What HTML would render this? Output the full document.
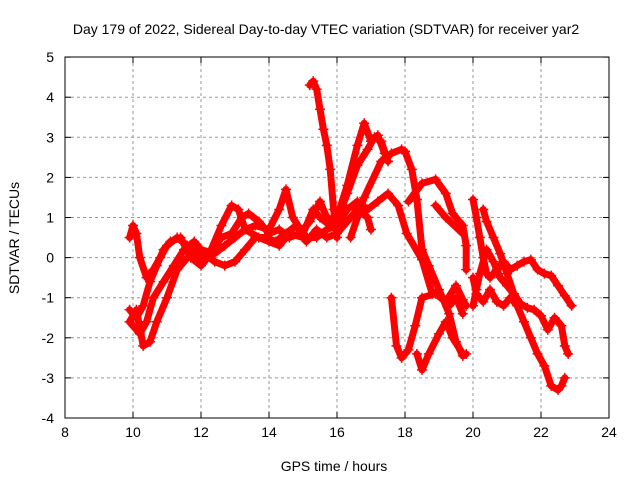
<!DOCTYPE html>
<html><head><meta charset="utf-8"><style>
body{margin:0;background:#fff;}
svg{display:block;font-family:"Liberation Sans",sans-serif;}
</style></head><body>
<svg id="chart" width="640" height="480">
<rect width="640" height="480" fill="#fff"/>
<text x="326" y="34" text-anchor="middle" font-size="14">Day 179 of 2022, Sidereal Day-to-day VTEC variation (SDTVAR) for receiver yar2</text>
<text x="334" y="471" text-anchor="middle" font-size="14">GPS time / hours</text>
<text transform="translate(19,238) rotate(-90)" text-anchor="middle" font-size="14">SDTVAR / TECUs</text>
<g id="grid"></g><g id="marks"></g>
<rect x="65" y="57" width="544" height="361" fill="none" stroke="#000"/>
</svg>
<script>
const xTicks=[8,10,12,14,16,18,20,22,24];
const yTicks=[-4,-3,-2,-1,0,1,2,3,4,5];
const seriesHours=[
[9.9,10.0,10.1,10.2,10.4,10.6,10.8,11.0,11.3,11.6,12.0,12.3,12.6,12.9,13.1,13.3,13.6,14.0,14.3,14.5,14.7,15.0,15.3,15.5,15.8,16.0,16.3,16.6,16.8,17.0,17.2,17.4],
[9.9,10.1,10.3,10.5,10.7,11.0,11.3,11.6,12.0,12.4,12.7,13.0,13.3,13.7,14.0,14.3,14.6,15.0,15.4,15.7,16.0,16.3,16.6,16.9,17.2,17.5,17.8,18.05,18.5,18.8,19.0,19.3,19.5,19.7],
[9.9,10.1,10.3,10.5,10.7,10.9,11.1,11.4,11.7,12.0,12.3,12.6,12.9,13.2,13.4,13.7,14.0,14.3,14.6,14.9,15.2,15.5,15.7,16.0,16.3,16.6,16.9,17.1,17.3,17.5],
[9.9,10.2,10.4,10.6,10.9,11.2,11.5,11.8,12.1,12.4,12.7,13.0,13.3,13.6,13.9,14.2,14.5,14.8,15.1,15.4,15.7,16.0,16.3,16.6,16.9,17.0],
[15.2,15.3,15.4,15.5,15.6,15.7,15.8,15.9,16.0],
[16.4,16.8,17.3,17.6,17.9,18.0,18.2,18.35,18.5,18.7,19.0,19.3,19.5,19.7,19.8],
[17.6,17.75,17.9,18.1,18.3,18.5,18.9,19.2,19.5,19.7,19.8],
[18.35,18.5,18.7,19.0,19.2,19.4,19.7],
[18.1,18.5,18.9,19.2,19.4,19.7,19.8,19.8],
[18.9,19.2,19.7],
[20.0,20.1,20.2,20.3,20.4,20.5,20.7,20.9,21.1,21.3,21.5,21.7,21.9,22.1,22.3,22.5,22.7,22.9],
[20.3,20.4,20.6,20.8,21.0,21.2,21.4,21.6,21.8,22.0,22.2,22.4,22.6,22.7,22.8],
[20.0,20.1,20.3,20.5,20.7,20.9,21.1,21.3,21.5,21.7,21.9,22.1,22.3,22.5,22.6,22.7],
[20.0,20.1,20.2,20.4,20.6,20.8,21.0,21.2]
];
const seriesValues=[
[0.5,0.8,0.6,0.0,-0.5,-0.3,0.0,0.3,0.5,0.3,0.0,0.2,0.8,1.3,1.2,0.7,0.8,0.7,1.2,1.7,1.0,0.6,1.2,1.0,0.8,1.0,1.8,2.8,3.35,2.9,3.05,2.6],
[-1.6,-1.3,-2.2,-2.1,-1.6,-1.0,-0.3,0.0,0.2,0.1,0.3,0.5,0.7,0.5,0.4,0.3,0.6,0.5,0.5,0.7,0.8,1.2,1.4,1.2,1.4,1.6,1.3,0.6,-0.05,-0.9,-0.9,-1.2,-1.0,-1.4],
[-1.3,-1.5,-1.2,-0.6,-0.2,0.2,0.4,0.5,0.0,-0.2,0.1,0.5,0.6,1.0,1.1,0.9,0.6,0.7,0.5,0.6,0.9,1.4,1.0,0.9,1.6,2.3,2.7,3.0,2.9,2.4],
[-1.6,-1.9,-1.6,-1.0,-0.6,-0.2,0.2,0.4,0.1,-0.1,-0.2,-0.1,0.2,0.5,0.5,0.4,0.6,0.8,0.4,0.7,0.5,0.6,0.9,1.2,1.0,0.7],
[4.3,4.4,4.2,3.7,3.2,2.8,2.2,1.2,0.5],
[0.5,1.5,2.4,2.6,2.7,2.65,2.2,1.45,0.2,-0.2,-0.8,-1.4,-2.1,-2.45,-2.4],
[-1.0,-2.2,-2.5,-2.3,-1.7,-1.0,-0.9,-1.1,-0.7,-1.05,-1.2],
[-2.4,-2.8,-2.4,-1.9,-1.6,-2.0,-2.4],
[1.4,1.85,1.95,1.6,1.1,0.8,0.3,-0.3],
[1.3,1.0,0.6],
[1.45,1.0,0.5,0.0,-0.4,-0.5,-0.3,-0.1,-0.3,-0.2,-0.1,-0.05,-0.3,-0.4,-0.45,-0.7,-0.95,-1.2],
[1.2,0.9,0.5,0.1,-0.4,-0.9,-1.15,-1.25,-1.3,-1.45,-1.8,-1.5,-1.7,-2.2,-2.4],
[-0.5,-0.9,-1.1,-0.8,-1.1,-1.2,-1.0,-1.2,-1.6,-2.0,-2.4,-2.7,-3.2,-3.3,-3.2,-3.0],
[-1.2,-0.8,-0.4,0.2,-0.1,-0.5,-0.7,-0.9]
];
const NS='http://www.w3.org/2000/svg';
const X=h=>65+(h-8)*34;
const Y=v=>257.6-v*40.1;
const grid=document.getElementById('grid'), marks=document.getElementById('marks');
function mk(tag,attrs,parent){const e=document.createElementNS(NS,tag);for(const k in attrs)e.setAttribute(k,attrs[k]);parent.appendChild(e);return e;}
xTicks.forEach(t=>{
  const x=X(t);
  if(t>8&&t<24){const g=mk('line',{x1:x,x2:x,y1:57,y2:418,stroke:'#999','stroke-dasharray':'3,3'},grid);
  
  }
  mk('line',{x1:x,x2:x,y1:418,y2:412,stroke:'#000'},grid);
  mk('line',{x1:x,x2:x,y1:57,y2:63,stroke:'#000'},grid);
  const l=mk('text',{x:x,y:437,'text-anchor':'middle','font-size':'14'},grid);l.textContent=t;
  
  
});
yTicks.forEach(t=>{
  const y=Y(t);
  if(t>-4&&t<5){const g=mk('line',{x1:65,x2:609,y1:y,y2:y,stroke:'#999','stroke-dasharray':'3,3'},grid);
  
  }
  mk('line',{x1:65,x2:71,y1:y,y2:y,stroke:'#000'},grid);
  mk('line',{x1:609,x2:603,y1:y,y2:y,stroke:'#000'},grid);
  const l=mk('text',{x:54,y:y+5,'text-anchor':'end','font-size':'14'},grid);l.textContent=t;
  
  
});
seriesHours.forEach((hs,i)=>{
  const vs=seriesValues[i];
  const pts=hs.map((h,j)=>X(h)+','+Y(vs[j])).join(' ');
  const p=mk('polyline',{points:pts,fill:'none',stroke:'#f00','stroke-width':7,'stroke-linejoin':'round','stroke-linecap':'round'},marks);
  
  
  hs.forEach((h,j)=>{
    const x=X(h),y=Y(vs[j]);
    const m=mk('path',{d:`M${x-5},${y}H${x+5}M${x},${y-5}V${y+5}`,stroke:'#f00','stroke-width':1.5},marks);
    
    
  });
});
</script>
</body></html>
